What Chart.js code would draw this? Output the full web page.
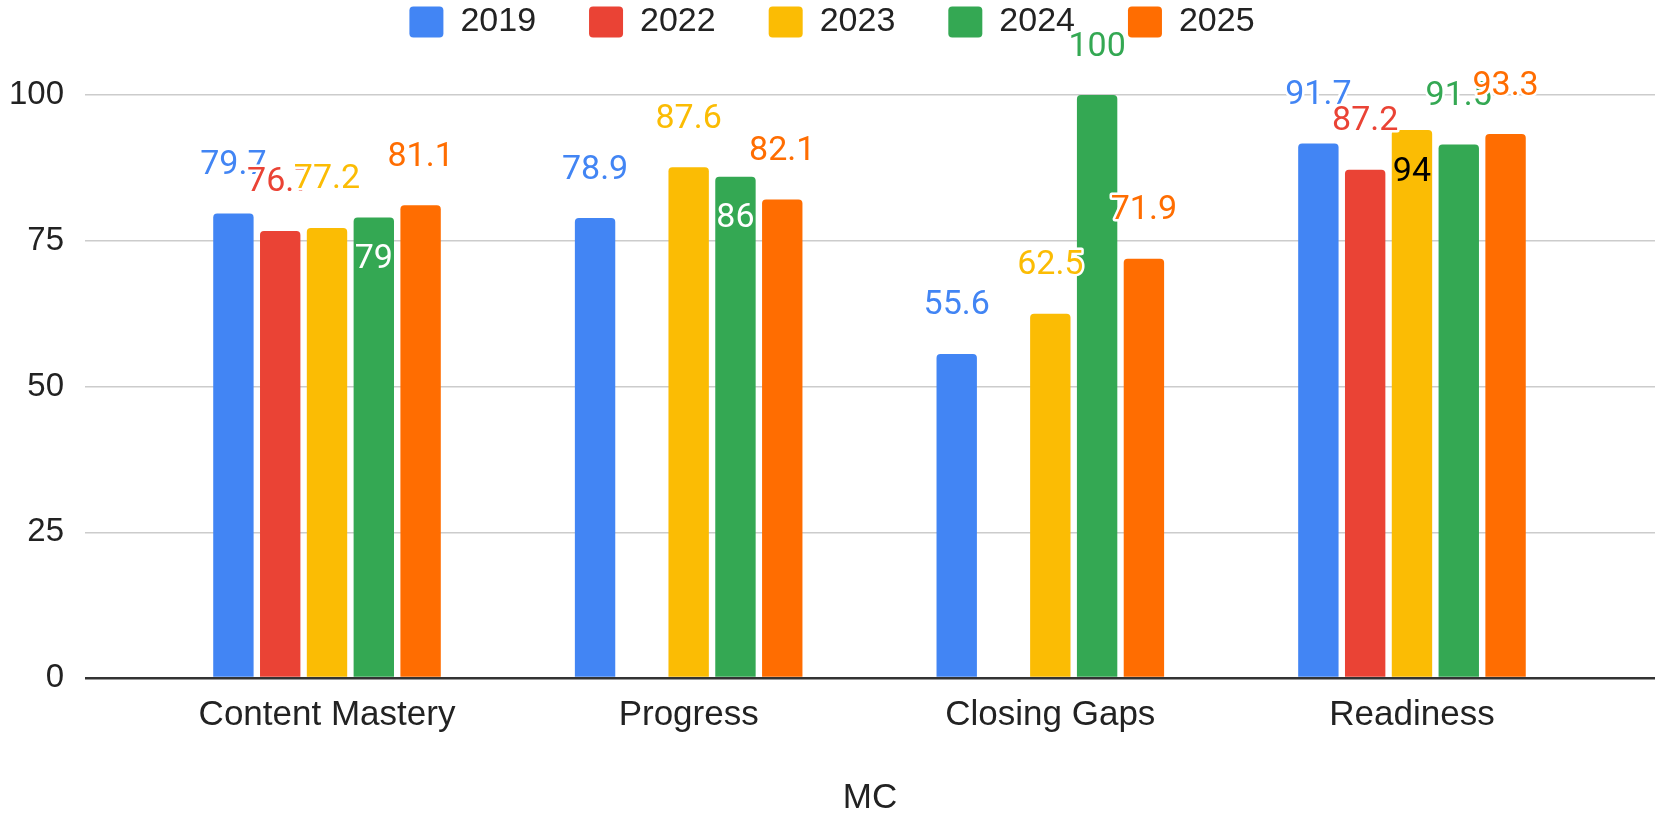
<!DOCTYPE html>
<html>
<head>
<meta charset="utf-8">
<title>MC</title>
<script src="https://cdn.jsdelivr.net/npm/chart.js@4.4.1/dist/chart.umd.min.js"></script>
<style>
  html, body { margin: 0; padding: 0; background: #fff; }
  #wrap { width: 1669px; height: 815px; }
</style>
</head>
<body>
<div id="wrap"><canvas id="myChart"></canvas></div>
<script>
// categories + one array per year
const categories = ['Content Mastery', 'Progress', 'Closing Gaps', 'Readiness'];
const years = ['2019', '2022', '2023', '2024', '2025'];
const v2019 = [79.7, 78.9, 55.6, 91.7];
const v2022 = [76.7, null, null, 87.2];
const v2023 = [77.2, 87.6, 62.5, 94];
const v2024 = [79, 86, 100, 91.5];
const v2025 = [81.1, 82.1, 71.9, 93.3];
const yTicks = [0, 25, 50, 75, 100];

const colors = ['#4285F4', '#EA4335', '#FBBC04', '#34A853', '#FF6D01'];
// labels that sit inside the bar: [dataset, category, text colour]
const insideLabels = [[3, 0, '#fff'], [3, 1, '#fff'], [2, 3, '#000']];

const series = [v2019, v2022, v2023, v2024, v2025];

// value labels above the bars (white halo like the original)
const valueLabels = {
  id: 'valueLabels',
  afterDatasetsDraw(chart) {
    const ctx = chart.ctx;
    ctx.save();
    ctx.font = '34px Roboto';
    ctx.textAlign = 'center';
    ctx.textBaseline = 'middle';
    ctx.lineJoin = 'round';
    chart.data.datasets.forEach((ds, di) => {
      chart.getDatasetMeta(di).data.forEach((bar, i) => {
        const v = series[di][i];
        if (v === null) return;
        const txt = String(v);
        const inside = insideLabels.find(p => p[0] === di && p[1] === i);
        if (inside) {
          ctx.fillStyle = inside[2];
          ctx.fillText(txt, bar.x, bar.y + 42);
        } else {
          ctx.strokeStyle = '#fff';
          ctx.lineWidth = 5;
          ctx.strokeText(txt, bar.x, bar.y - 48);
          ctx.fillStyle = colors[di];
          ctx.fillText(txt, bar.x, bar.y - 48);
        }
      });
    });
    ctx.restore();
  }
};

const ctx = document.getElementById('myChart').getContext('2d');

new Chart(ctx, {
  type: 'bar',
  data: {
    datasets: years.map((y, di) => ({
      label: y,
      data: series[di].map((v, i) => ({ x: i, y: v })),
      backgroundColor: colors[di],
      borderRadius: 4,
      borderSkipped: 'start',
      categoryPercentage: 0.647,
      barPercentage: 0.863
    }))
  },
  options: {
    responsive: true,
    maintainAspectRatio: false,
    animation: false,
    layout: { padding: { top: -48, left: 9, right: 14, bottom: -4 } },
    plugins: {
      legend: {
        position: 'top',
        labels: {
          font: { family: 'Liberation Sans, Arial', size: 34 },
          color: '#222',
          boxWidth: 34,
          boxHeight: 31,
          useBorderRadius: true,
          borderRadius: 4,
          padding: 53
        }
      },
      tooltip: { enabled: false }
    },
    scales: {
      x: {
        type: 'linear',
        offset: false,
        min: -0.669,
        max: 3.672,
        afterBuildTicks: s => { s.ticks = categories.map((c, i) => ({ value: i })); },
        grid: { display: false, drawTicks: false },
        border: { display: false },
        ticks: {
          callback: v => categories[v],
          font: { family: 'Liberation Sans, Arial', size: 35 },
          color: '#222',
          padding: 16,
          maxRotation: 0,
          autoSkip: false
        },
        title: {
          display: true,
          text: 'MC',
          font: { family: 'Liberation Sans, Arial', size: 35 },
          color: '#222',
          padding: { top: 25, bottom: 0 }
        }
      },
      y: {
        min: 0,
        max: 107.9,
        afterBuildTicks: s => { s.ticks = yTicks.map(v => ({ value: v })); },
        // tick padding is counted twice by chart.js, only keep the inner one
        afterFit: s => { s.width -= 21; },
        grid: {
          color: c => (c.tick && c.tick.value === 0 ? '#333' : '#ccc'),
          lineWidth: c => (c.tick && c.tick.value === 0 ? 2.5 : 1.5),
          drawTicks: false
        },
        border: { display: false },
        ticks: {
          font: { family: 'Liberation Sans, Arial', size: 33 },
          color: '#222',
          padding: 21
        }
      }
    }
  },
  plugins: [valueLabels]
});
</script>
</body>
</html>
